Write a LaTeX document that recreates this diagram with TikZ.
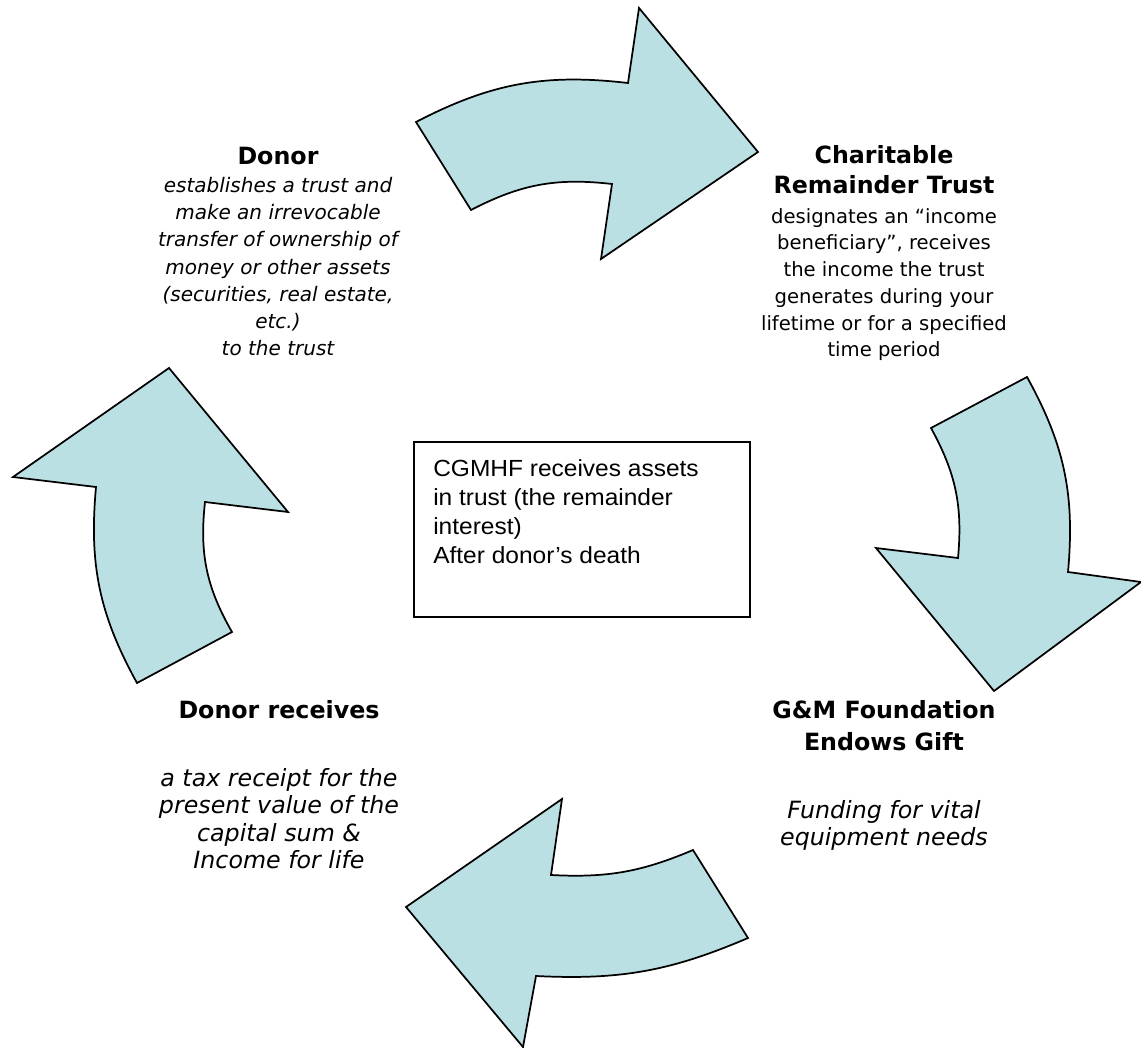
\documentclass[tikz,border=0pt]{standalone}
\usepackage{fontspec}
\setmainfont{DejaVu Sans}
\newfontfamily\boxfont{Liberation Sans}[FakeStretch=1.05]
\definecolor{arrowfill}{HTML}{BBE0E3}
\tikzset{
  cyc/.style={fill=arrowfill, draw=black, line width=1.3pt, line join=miter},
  txtline/.style={anchor=base, inner sep=0pt},
  hdline/.style={txtline, font=\fontsize{17.8}{20}\selectfont\bfseries},
  bodyit/.style={txtline, font=\fontsize{15}{20}\selectfont\itshape},
  bodyup/.style={txtline, font=\fontsize{14.7}{20}\selectfont},
  bodybig/.style={txtline, font=\fontsize{17.8}{20}\selectfont\itshape},
  boxline/.style={anchor=base west, inner sep=0pt, font=\boxfont\fontsize{17.5}{21}\selectfont}
}
\begin{document}
\begin{tikzpicture}[x=0.75pt, y=-0.75pt]
\useasboundingbox (0,0) rectangle (1141,1048);
\fill[white] (0,0) rectangle (1141,1048);

% top arrow
\filldraw[cyc] (416,122) to[bend left=17] (628,83)
  -- (639,8) -- (758,152) -- (601,259) -- (612,184)
  to[bend right=17] (471,210) -- cycle;
% right arrow
\filldraw[cyc] (1027,377) to[bend left=17] (1068,572)
  -- (1141,582) -- (994,691) -- (876,548) -- (958,558)
  to[bend right=17] (931,428) -- cycle;
% bottom arrow
\filldraw[cyc] (693,850) to[bend left=13] (551,875)
  -- (562,799) -- (406,907) -- (523,1047) -- (536,976)
  to[bend right=13] (748,938) -- cycle;
% left arrow
\filldraw[cyc] (232,632) to[bend left=18] (205,502)
  -- (288,512) -- (169,368) -- (13,477) -- (96,487)
  to[bend right=17] (137,683) -- cycle;

% centre box
\draw[line width=1.3pt] (414,442) rectangle (750,617);
\foreach \txt [count=\i] in {CGMHF receives assets, in trust (the remainder, interest), After donor’s death}
  \node[boxline] (centre-\i) at (433,{476.7+28.9*(\i-1)}) {\txt};

% donor
\node[hdline] (donor-h) at (278,165) {Donor};
\foreach \txt [count=\i] in {establishes a trust and, make an irrevocable, transfer of ownership of, money or other assets, {(securities, real estate,}, etc.), to the trust}
  \node[bodyit] (donor-\i) at (278,{192.5+27.2*(\i-1)}) {\txt};

% charitable remainder trust
\node[hdline] (crt-h1) at (884,163.3) {Charitable};
\node[hdline] (crt-h2) at (884,194) {Remainder Trust};
\foreach \txt [count=\i] in {designates an “income, {beneficiary”, receives}, the income the trust, generates during your, lifetime or for a specified, time period}
  \node[bodyup] (crt-\i) at (884,{223.3+26.7*(\i-1)}) {\txt};

% G&M
\node[hdline] (gm-h1) at (884,718.3) {G\&M Foundation};
\node[hdline] (gm-h2) at (884,750) {Endows Gift};
\node[bodybig] (gm-1) at (884,818.3) {Funding for vital};
\node[bodybig] (gm-2) at (884,845) {equipment needs};

% donor receives
\node[hdline] (recv-h) at (279,718.3) {Donor receives};
\foreach \txt [count=\i] in {a tax receipt for the, present value of the, capital sum \&, Income for life}
  \node[bodybig] (recv-\i) at (279,{786.7+27.2*(\i-1)}) {\txt};
\end{tikzpicture}
\end{document}
